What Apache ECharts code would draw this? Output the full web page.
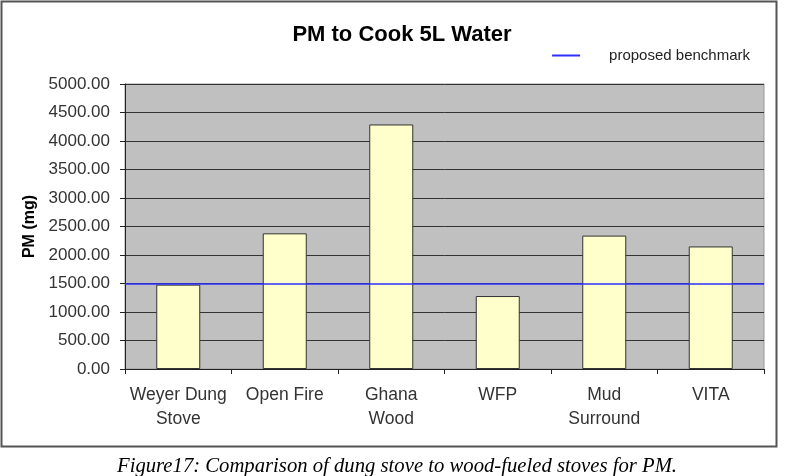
<!DOCTYPE html>
<html><head><meta charset="utf-8">
<script src="https://cdn.jsdelivr.net/npm/echarts@6/dist/echarts.min.js"></script>
<style>html,body{margin:0;padding:0;background:#fff;}#c{width:800px;height:476px;}</style>
</head><body><div id="c"></div>
<script>
var categories = ['Weyer Dung\nStove', 'Open Fire', 'Ghana\nWood', 'WFP', 'Mud\nSurround', 'VITA'];
var pmValues = [1480, 2380, 4290, 1280, 2340, 2150];
var benchmark = [1500];
var yTicks = [0, 500, 1000, 1500, 2000, 2500, 3000, 3500, 4000, 4500, 5000];

var chart = echarts.init(document.getElementById('c'), null, {renderer: 'canvas'});
chart.setOption({
  animation: false,
  backgroundColor: '#fff',
  title: {
    text: 'PM to Cook 5L Water', left: 397, top: 19, textAlign: 'center',
    textStyle: {fontFamily: 'Liberation Sans, Arial', fontSize: 22, fontWeight: 'bold', color: '#000'}
  },
  legend: {
    right: 45, top: 43, itemWidth: 28, itemHeight: 2, itemGap: 10,
    icon: 'rect',
    data: [{name: 'proposed benchmark'}],
    textStyle: {fontFamily: 'Liberation Sans, Arial', fontSize: 15, color: '#222', padding: [0, 0, 0, 24]}
  },
  grid: {left: 125, right: 36, top: 84, bottom: 107, show: true, backgroundColor: '#c0c0c0', borderColor: '#999', borderWidth: 1},
  xAxis: {
    type: 'category', data: categories,
    axisLine: {lineStyle: {color: '#222', width: 1}},
    axisTick: {show: true, alignWithLabel: false, length: 5, lineStyle: {color: '#222'}},
    axisLabel: {interval: 0, fontFamily: 'Liberation Sans, Arial', fontSize: 17.5, color: '#333', margin: 14, lineHeight: 24}
  },
  yAxis: {
    type: 'value', min: yTicks[0], max: yTicks[yTicks.length - 1], interval: 500,
    name: 'PM (mg)', nameLocation: 'middle', nameGap: 85, nameRotate: 90,
    nameTextStyle: {fontFamily: 'Liberation Sans, Arial', fontSize: 16, fontWeight: 'bold', color: '#000'},
    axisLine: {show: true, lineStyle: {color: '#222'}},
    axisTick: {show: true, length: 5, lineStyle: {color: '#222'}},
    splitLine: {lineStyle: {color: '#333', width: 1}},
    axisLabel: {fontFamily: 'Liberation Sans, Arial', fontSize: 17, color: '#333', margin: 15,
      formatter: function (v) { return v.toFixed(2); }}
  },
  series: [
    {
      type: 'bar', name: 'PM', data: pmValues, barWidth: 44,
      itemStyle: {color: '#ffffcc', borderColor: '#333', borderWidth: 1}
    },
    {
      type: 'line', name: 'proposed benchmark', data: [], color: '#2f2fff', z: 10,
      markLine: {
        silent: true, symbol: ['none', 'none'], label: {show: false}, z: 10,
        lineStyle: {color: '#2f2fff', width: 1.5, type: 'solid'},
        data: [{yAxis: benchmark[0]}]
      }
    }
  ],
  graphic: [
    {type: 'rect', shape: {x: 1.5, y: 1.5, width: 775, height: 445}, style: {fill: 'none', stroke: '#555', lineWidth: 2}, z: -1},
    {type: 'text', left: 117, top: 456, style: {text: 'Figure17: Comparison of dung stove to wood-fueled stoves for PM.', font: 'italic 20.7px "Liberation Serif", "Times New Roman", serif', fill: '#000'}}
  ]
});
</script>
</body></html>
